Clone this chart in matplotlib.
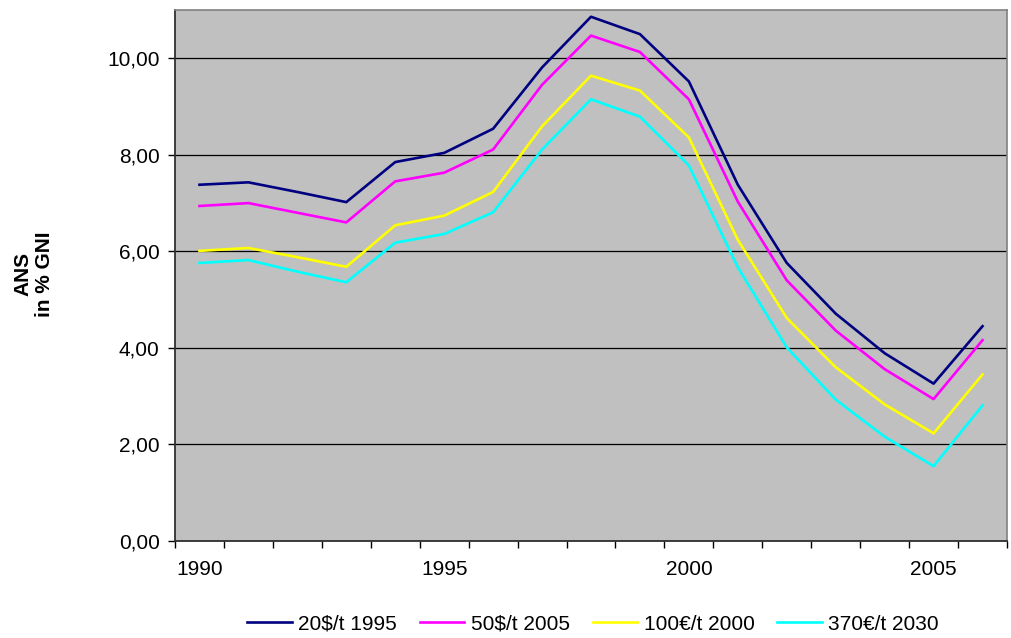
import numpy as np
import matplotlib
matplotlib.use("Agg")
import matplotlib.pyplot as plt
from matplotlib.ticker import FuncFormatter, FixedLocator

plt.rcParams['font.family'] = ['Liberation Sans', 'DejaVu Sans']

# Data
years = list(range(1990, 2007))
tick_years = [1990, 1995, 2000, 2005]

ans_20usd_1995 = [7.38, 7.43, 7.23, 7.02, 7.85, 8.04, 8.54, 9.81, 10.86, 10.50,
                  9.52, 7.38, 5.76, 4.71, 3.89, 3.26, 4.45]
ans_50usd_2005 = [6.94, 7.00, 6.80, 6.60, 7.45, 7.63, 8.11, 9.45, 10.47, 10.13,
                  9.15, 7.03, 5.40, 4.36, 3.56, 2.94, 4.16]
ans_100eur_2000 = [6.01, 6.07, 5.88, 5.68, 6.54, 6.74, 7.23, 8.59, 9.64, 9.33,
                   8.36, 6.24, 4.62, 3.60, 2.83, 2.23, 3.45]
ans_370eur_2030 = [5.76, 5.82, 5.58, 5.36, 6.18, 6.36, 6.81, 8.11, 9.15, 8.79,
                   7.78, 5.67, 4.01, 2.93, 2.16, 1.55, 2.81]

series = [
    ("20$/t 1995", ans_20usd_1995, "#000080"),
    ("50$/t 2005", ans_50usd_2005, "#FF00FF"),
    ("100€/t 2000", ans_100eur_2000, "#FFFF00"),
    ("370€/t 2030", ans_370eur_2030, "#00FFFF"),
]

fs = 15

fig = plt.figure(figsize=(10.11, 6.38), dpi=100)
ax = fig.add_axes([175 / 1011, 1 - 541 / 638, 832 / 1011, 531 / 638])
ax.set_facecolor("#C0C0C0")

x = np.arange(len(years))
for label, vals, color in series:
    ax.plot(x, vals, color=color, lw=1.9, label=label, zorder=3)

# y axis
ax.set_ylim(0, 11)
ax.set_yticks([0, 2, 4, 6, 8, 10])
ax.yaxis.set_major_formatter(FuncFormatter(lambda v, p: f"{v:.2f}".replace(".", ",")))
ax.grid(axis="y", color="black", lw=0.9, zorder=1)

# x axis: category boundaries as ticks, labels every 5 years
ax.set_xlim(-0.5, len(years) - 0.5)
ax.xaxis.set_minor_locator(FixedLocator(np.arange(-0.5, len(years), 1.0)))
ax.set_xticks([years.index(y) for y in tick_years])
ax.set_xticklabels([str(y) for y in tick_years])
ax.tick_params(axis="x", which="major", length=0, pad=14, labelsize=fs)
ax.tick_params(axis="x", which="minor", length=5, width=1, direction="out")
ax.tick_params(axis="y", length=5, width=1, direction="out", labelsize=fs, pad=6)

for side in ["top", "right"]:
    ax.spines[side].set_color("#808080")
    ax.spines[side].set_linewidth(1.2)
for side in ["left", "bottom"]:
    ax.spines[side].set_color("#303030")
    ax.spines[side].set_linewidth(1.3)

fig.text(34 / 1011, 1 - 274 / 638, "ANS\nin % GNI", rotation=90, ha="center", va="center",
         fontsize=fs, fontweight="bold", linespacing=1.2)

fig.legend(loc="center", bbox_to_anchor=(593 / 1011, 1 - 624 / 638), ncol=4, frameon=False,
           fontsize=fs, handlelength=2.15, handletextpad=0.3, columnspacing=1.1)

fig.savefig("out.png", dpi=100)
